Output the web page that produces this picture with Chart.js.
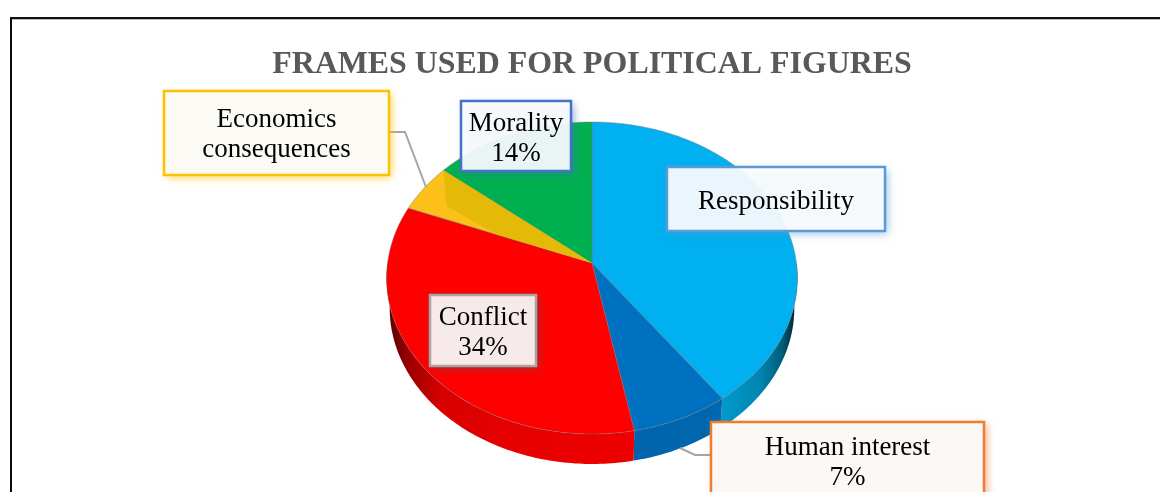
<!DOCTYPE html>
<html>
<head>
<meta charset="utf-8">
<title>Frames used for political figures</title>
<script src="https://cdn.jsdelivr.net/npm/chart.js@4/dist/chart.umd.min.js"></script>
<style>
    body { margin: 0; background: #fff; overflow: hidden; }
    #frame { position: absolute; left: 10px; top: 17px; right: 0; bottom: 0; border-left: 2px solid #0a0a0a; border-top: 2px solid #111; box-shadow: inset 0 1px 0 #bbb; pointer-events: none; }
    canvas { position: absolute; left: 0; top: 0; }
</style>
</head>
<body>
<canvas id="pieChart" width="1160" height="492"></canvas>
<div id="frame"></div>
<script>
// Chart data
const categories = ['Responsibility', 'Human interest', 'Conflict', 'Economics consequences', 'Morality'];
const shares = [40, 7, 34, 5, 14];
const chartTitle = 'FRAMES USED FOR POLITICAL FIGURES';

// Slice styles
const faceColors = ['#00b0f0', '#0070c0', '#ff0000', '#fcc01a', '#00b050'];
const wallStops = [
    [[0, '#009acc'], [0.5, '#0086b0'], [0.8, '#005c7a'], [1, '#001c28']],
    [[0, '#0064ac'], [1, '#0068b0']],
    [[0, '#5a0000'], [0.1, '#a00000'], [0.22, '#d80000'], [0.5, '#e60000'], [1, '#ee0000']],
    null,
    null
];

// Tilt of the pie: perspective plus the squash of the face, thickness of the side wall
const TILT_K = 0.096;
const TILT_X = 1.45;
const TILT_Y = 1.096;
const WALL_DROP = 30;
const WALL_SHRINK = 0.985;
const FONT = '"Liberation Serif"';

function project(arc, angle, r) {
    const u = r * Math.cos(angle);
    const v = r * Math.sin(angle);
    const w = 1 - TILT_K * v;
    return {
        x: arc.x + arc.outerRadius * TILT_X * u / w,
        y: arc.y + arc.outerRadius * TILT_Y * v / w,
    };
}

function rimPoints(arc, from, to) {
    const steps = Math.max(2, Math.ceil((to - from) * 60));
    const pts = [];
    for (let i = 0; i <= steps; i++) {
        pts.push(project(arc, from + (to - from) * i / steps, 1));
    }
    return pts;
}

function tracePath(ctx, pts) {
    ctx.beginPath();
    pts.forEach((p, i) => (i ? ctx.lineTo(p.x, p.y) : ctx.moveTo(p.x, p.y)));
    ctx.closePath();
}

function drawWall(ctx, arc, stops) {
    // Only the part of the rim facing the viewer
    const from = Math.max(arc.startAngle, 0);
    const to = Math.min(arc.endAngle, Math.PI);
    if (to <= from) return;
    const top = rimPoints(arc, from, to);
    const bottom = top.map(p => ({
        x: arc.x + (p.x - arc.x) * WALL_SHRINK,
        y: p.y + WALL_DROP,
    })).reverse();
    const xs = top.map(p => p.x);
    const grad = ctx.createLinearGradient(Math.min(...xs), 0, Math.max(...xs), 0);
    stops.forEach(s => grad.addColorStop(s[0], s[1]));
    ctx.fillStyle = grad;
    tracePath(ctx, top.concat(bottom));
    ctx.fill();
}

function drawFace(ctx, arc, color) {
    tracePath(ctx, [{ x: arc.x, y: arc.y }].concat(rimPoints(arc, arc.startAngle, arc.endAngle)));
    ctx.fillStyle = color;
    ctx.fill();
    ctx.strokeStyle = 'rgba(120,120,120,0.55)';
    ctx.lineWidth = 0.8;
    ctx.stroke();
}

// Darker fold on the economics slice
function drawFold(ctx, arc) {
    const span = arc.endAngle - arc.startAngle;
    tracePath(ctx, [
        { x: arc.x, y: arc.y },
        project(arc, arc.startAngle, 0.51),
        project(arc, arc.startAngle + span * 0.32, 0.83),
        project(arc, arc.endAngle, 1),
    ]);
    ctx.fillStyle = '#e4b908';
    ctx.fill();
}

const pie3d = {
    id: 'pie3d',
    beforeDatasetsDraw(chart) {
        const ctx = chart.ctx;
        const arcs = chart.getDatasetMeta(0).data;
        ctx.save();
        arcs.forEach((arc, i) => { if (wallStops[i]) drawWall(ctx, arc, wallStops[i]); });
        arcs.forEach((arc, i) => drawFace(ctx, arc, faceColors[i]));
        drawFold(ctx, arcs[3]);
        ctx.restore();
        return false;
    },
};

// Callouts
const callouts = [
    { lines: ['Responsibility'], x: 667, y: 167, w: 218, h: 64, border: '#5b9bd5', fill: 'rgba(255,255,255,0.9)', shadow: 'rgba(91,155,213,0.6)' },
    { lines: ['Human interest', '7%'], x: 711, y: 422, w: 273, h: 84, textY: 445, border: '#ed7d31', fill: '#fcf8f5', shadow: 'rgba(237,125,49,0.6)', leader: [[680, 448], [695, 455], [711, 455]] },
    { lines: ['Conflict', '34%'], x: 430, y: 295, w: 106, h: 71, border: '#a5a5a5', fill: 'rgba(255,255,255,0.9)', shadow: 'rgba(90,90,90,0.6)' },
    { lines: ['Economics', 'consequences'], x: 164, y: 91, w: 225, h: 84, textY: 117, border: '#ffc000', fill: '#fbfaf5', shadow: 'rgba(255,192,0,0.6)', leader: [[389, 132], [405, 132], [426, 187]] },
    { lines: ['Morality', '14%'], x: 461, y: 101, w: 110, h: 70, border: '#4472c4', fill: 'rgba(255,255,255,0.9)', shadow: 'rgba(68,114,196,0.6)' },
];

const calloutPlugin = {
    id: 'callouts',
    afterDraw(chart) {
        const ctx = chart.ctx;
        ctx.save();
        callouts.forEach(c => {
            if (c.leader) {
                ctx.strokeStyle = '#a5a5a5';
                ctx.lineWidth = 2;
                ctx.beginPath();
                c.leader.forEach((p, i) => (i ? ctx.lineTo(p[0], p[1]) : ctx.moveTo(p[0], p[1])));
                ctx.stroke();
            }
            ctx.save();
            ctx.shadowColor = c.shadow;
            ctx.shadowBlur = 8;
            ctx.shadowOffsetX = 3;
            ctx.shadowOffsetY = 3;
            ctx.fillStyle = c.fill;
            ctx.fillRect(c.x, c.y, c.w, c.h);
            ctx.restore();
            ctx.strokeStyle = c.border;
            ctx.lineWidth = 2.5;
            ctx.strokeRect(c.x, c.y, c.w, c.h);

            ctx.fillStyle = '#000';
            ctx.font = '27px ' + FONT;
            ctx.textAlign = 'center';
            ctx.textBaseline = 'middle';
            const midY = (c.textY !== undefined ? c.textY + 15 : c.y + c.h / 2) + 2.5;
            c.lines.forEach((line, i) => {
                ctx.fillText(line, c.x + c.w / 2, midY + (i - (c.lines.length - 1) / 2) * 30);
            });
        });
        ctx.restore();
    },
};

new Chart(document.getElementById('pieChart'), {
    type: 'pie',
    data: {
        labels: categories,
        datasets: [{ data: shares, backgroundColor: faceColors, borderWidth: 0 }],
    },
    options: {
        responsive: false,
        animation: false,
        events: [],
        layout: { padding: { left: 24, right: 0, top: 0, bottom: 88 } },
        plugins: {
            legend: { display: false },
            tooltip: { enabled: false },
            title: {
                display: true,
                text: chartTitle,
                color: '#595959',
                font: { family: FONT, size: 31.9, weight: 'bold' },
                padding: { top: 46, bottom: 37.72 },
            },
        },
    },
    plugins: [pie3d, calloutPlugin],
});
</script>
</body>
</html>
